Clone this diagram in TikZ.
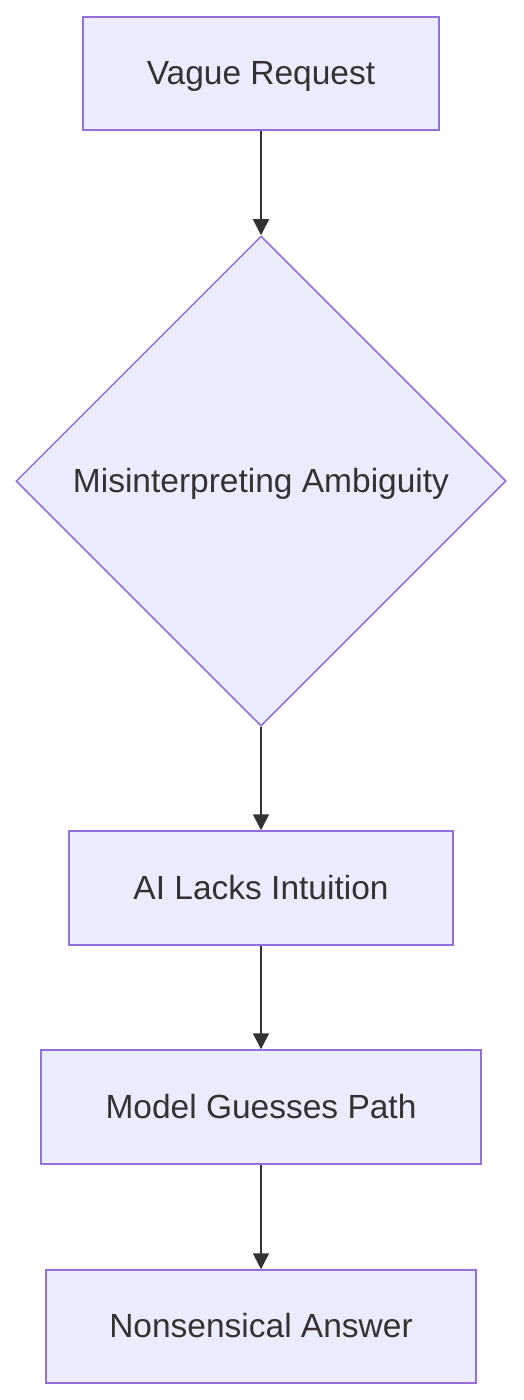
\documentclass[tikz,border=0pt]{standalone}
\usepackage{fontspec}
\setmainfont{Liberation Sans}
\usetikzlibrary{shapes.geometric,arrows.meta}
\definecolor{boxfill}{HTML}{ECECFF}
\definecolor{boxline}{HTML}{9370DB}
\definecolor{ink}{HTML}{333333}
\begin{document}
\begin{tikzpicture}[x=1pt,y=-1pt,
  every node/.style={text=ink, font=\fontsize{33.5}{40}\selectfont, inner sep=0pt, text height=24pt, text depth=2pt},
  box/.style={draw=boxline, fill=boxfill, line width=1.5pt, rectangle},
  dia/.style={draw=boxline, fill=boxfill, line width=1.5pt, diamond, aspect=1, minimum width=490pt, minimum height=490pt},
  arr/.style={draw=ink, line width=1.6pt, -{Triangle[length=16pt,width=16pt]}}]
\useasboundingbox (0,0) rectangle (524,1400);
\node[box, minimum width=356pt, minimum height=113pt] (a) at (261,73.5) {Vague Request};
\node[dia] (b) at (261,481) {Misinterpreting Ambiguity};
\node[box, minimum width=384pt, minimum height=114pt] (c) at (261,888) {AI Lacks Intuition};
\node[box, minimum width=440pt, minimum height=114pt] (d) at (261,1107) {Model Guesses Path};
\node[box, minimum width=430pt, minimum height=113pt] (e) at (261,1326.5) {Nonsensical Answer};
\draw[arr] (a) -- (b);
\draw[arr] (b) -- (c);
\draw[arr] (c) -- (d);
\draw[arr] (d) -- (e);
\end{tikzpicture}
\end{document}
